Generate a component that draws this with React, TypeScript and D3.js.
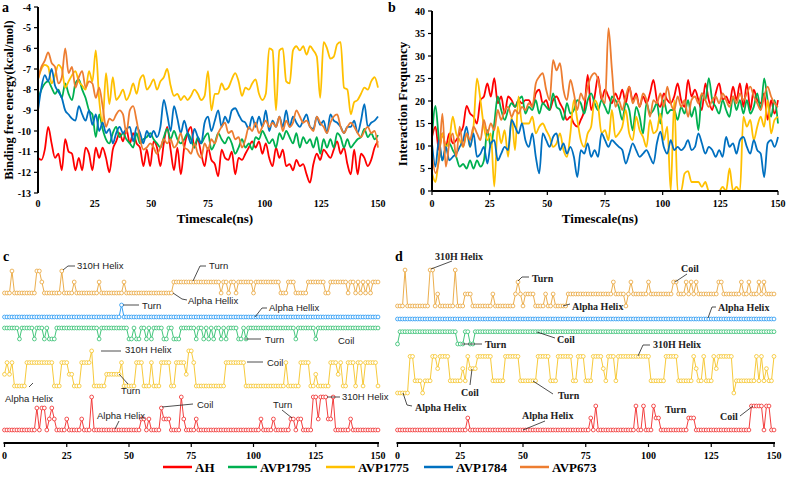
import React from 'react';
import * as d3 from 'd3';

// ---------- DATA ----------
const SERIES = ['AH', 'AVP1795', 'AVP1775', 'AVP1784', 'AVP673'];
const COLORS = ['#FF0000', '#00B050', '#FFC000', '#0070C0', '#ED7D31'];
const TIME_MAX = 150;
const X_TICKS = [0, 25, 50, 75, 100, 125, 150];
const ENERGY_TICKS = [-4, -5, -6, -7, -8, -9, -10, -11, -12, -13];
const FREQ_TICKS = [0, 5, 10, 15, 20, 25, 30, 35, 40];

// binding free energy (kcal/mol), sampled every 1.5 ns
const ENERGY_AH = [-11.3,-11.4,-10.9,-9.8,-10.6,-11.3,-11.1,-11.9,-10.4,-11.0,
-11.1,-11.9,-11.3,-11.9,-10.8,-11.1,-11.9,-10.8,-11.3,-10.8,
-11.3,-12.0,-10.9,-10.5,-10.1,-10.5,-9.9,-10.6,-10.1,-10.6,
-10.8,-11.7,-10.9,-11.7,-10.5,-10.8,-11.7,-10.6,-9.8,-10.9,
-11.9,-10.8,-12.1,-10.8,-10.1,-9.8,-10.8,-10.4,-11.1,-11.7,
-10.8,-11.4,-11.6,-12.2,-10.9,-11.3,-11.4,-11.0,-12.1,-11.3,
-11.4,-11.1,-10.8,-10.5,-10.8,-10.5,-11.1,-10.6,-11.3,-11.7,
-10.8,-11.3,-10.9,-11.7,-11.6,-11.9,-11.4,-11.7,-11.6,-12.1,
-12.5,-11.6,-11.1,-11.4,-10.9,-11.1,-11.3,-10.9,-10.5,-11.1,
-10.8,-11.6,-12.1,-10.9,-12.1,-11.1,-11.3,-11.7,-11.4,-10.8,
-10.5];
const ENERGY_AVP1795 = [-8.5,-8.0,-7.7,-7.6,-7.9,-8.2,-8.0,-8.4,-7.7,-8.2,
-8.5,-7.7,-7.5,-8.0,-8.4,-9.0,-9.2,-10.3,-9.2,-9.9,
-10.4,-10.6,-10.1,-9.8,-10.3,-10.1,-10.4,-10.6,-10.8,-10.1,
-10.6,-10.4,-10.3,-10.1,-10.4,-10.6,-10.8,-10.3,-9.9,-10.4,
-10.0,-10.4,-10.6,-10.4,-10.1,-10.4,-10.8,-10.3,-10.6,-10.3,
-10.1,-10.9,-10.6,-10.1,-10.4,-10.6,-10.3,-10.6,-11.1,-10.8,
-10.4,-10.8,-10.6,-10.9,-10.3,-10.4,-10.0,-10.3,-10.6,-10.4,
-10.8,-10.1,-10.4,-10.0,-10.3,-10.6,-10.1,-10.8,-10.3,-10.6,
-10.4,-10.8,-10.3,-11.1,-10.4,-10.8,-10.4,-10.8,-10.1,-10.3,
-10.8,-10.4,-10.8,-10.6,-10.4,-10.3,-9.9,-10.3,-10.1,-10.4,
-10.2];
const ENERGY_AVP1775 = [-7.5,-7.0,-6.8,-6.9,-7.7,-7.3,-6.8,-7.0,-7.9,-7.6,
-7.3,-7.1,-7.6,-7.8,-8.0,-7.1,-7.6,-6.1,-8.5,-9.6,
-7.2,-8.7,-7.4,-8.5,-8.3,-8.0,-8.5,-8.2,-7.7,-8.2,
-7.5,-7.3,-8.0,-7.8,-7.5,-8.0,-7.6,-7.4,-7.0,-7.8,
-8.3,-8.2,-8.5,-8.3,-8.5,-8.3,-8.0,-8.2,-8.5,-8.3,
-7.1,-9.0,-8.2,-8.2,-7.7,-8.0,-7.9,-7.5,-7.2,-7.6,
-8.3,-7.9,-8.0,-7.7,-7.5,-8.2,-8.5,-8.2,-6.0,-6.1,
-9.0,-6.1,-6.0,-7.6,-7.7,-6.1,-5.9,-6.1,-5.9,-6.3,
-5.9,-6.1,-6.4,-8.4,-5.7,-6.0,-6.5,-6.4,-5.8,-5.7,
-7.9,-8.0,-9.2,-8.6,-8.5,-8.2,-7.9,-8.0,-7.6,-7.4,
-7.9];
const ENERGY_AVP1784 = [-9.0,-7.9,-7.3,-7.6,-7.0,-7.8,-8.1,-8.4,-9.0,-9.2,
-9.4,-9.5,-8.8,-9.2,-9.5,-9.0,-9.7,-9.2,-10.0,-9.6,
-10.1,-9.9,-10.6,-10.1,-9.8,-10.1,-9.9,-9.8,-10.5,-9.8,
-10.1,-10.6,-10.0,-10.3,-10.0,-10.3,-9.8,-8.5,-9.2,-10.0,
-8.8,-9.4,-10.1,-9.5,-10.1,-10.6,-9.9,-10.3,-10.6,-9.6,
-9.3,-10.0,-9.5,-9.0,-9.8,-9.3,-9.6,-9.0,-8.9,-9.2,
-9.5,-9.6,-9.9,-9.3,-9.8,-9.3,-9.8,-9.0,-10.0,-9.5,
-9.8,-9.3,-9.8,-9.0,-9.8,-9.3,-9.6,-9.8,-9.5,-9.2,
-9.8,-9.9,-9.3,-9.7,-9.5,-10.1,-9.2,-9.5,-9.6,-9.8,
-10.1,-9.8,-9.8,-9.5,-10.1,-9.5,-8.7,-9.8,-9.6,-9.5,
-9.3];
const ENERGY_AVP673 = [-7.5,-6.9,-6.6,-6.2,-6.7,-6.9,-7.7,-7.4,-6.0,-7.2,
-6.9,-7.9,-7.4,-7.1,-7.9,-7.6,-7.7,-8.4,-7.9,-8.8,
-9.8,-9.4,-9.5,-9.2,-9.0,-9.2,-10.1,-9.0,-8.8,-9.5,
-10.4,-10.9,-10.8,-10.6,-10.8,-11.1,-10.8,-10.4,-10.6,-10.4,
-10.8,-10.6,-10.1,-10.8,-10.9,-11.1,-10.6,-11.1,-11.3,-10.6,
-10.9,-10.4,-10.6,-10.1,-9.8,-9.6,-10.1,-10.0,-10.4,-10.3,
-10.8,-10.4,-9.8,-10.0,-9.6,-10.1,-9.8,-9.5,-9.8,-9.6,
-9.8,-9.3,-10.0,-9.5,-9.8,-9.6,-9.0,-9.3,-9.6,-9.5,
-9.8,-10.0,-9.3,-9.6,-9.8,-10.1,-9.6,-9.3,-9.2,-9.8,
-10.1,-9.8,-9.6,-9.8,-10.1,-10.3,-10.0,-9.8,-10.1,-10.0,
-10.8];

// interaction frequency, sampled every 1.5 ns
const FREQ_AH = [12.0,14.3,9.1,12.8,9.8,12.8,10.6,11.3,12.8,14.3,
18.9,17.2,16.5,15.0,20.2,21.0,23.9,21.0,25.1,19.5,
21.0,17.2,21.0,20.2,18.7,20.2,19.5,20.2,20.2,18.7,
21.7,22.5,19.5,20.2,18.0,20.2,21.0,19.5,18.0,15.8,
16.5,15.0,14.3,15.8,18.0,25.8,18.0,21.0,25.4,20.2,
22.5,21.0,19.5,21.7,20.2,22.5,19.5,23.2,20.2,21.7,
18.7,21.0,19.5,21.7,24.7,20.2,18.7,21.7,20.2,19.5,
21.0,23.9,20.2,18.7,24.7,21.0,22.5,20.2,18.0,23.9,
20.2,18.0,21.7,23.9,20.2,21.0,19.5,23.2,20.2,23.9,
18.7,23.9,18.0,22.5,20.2,19.5,21.7,15.8,20.2,17.2,
20.2];
const FREQ_AVP1795 = [12.0,18.9,11.3,6.8,9.8,10.6,9.1,7.6,5.4,6.0,
5.0,6.8,5.0,6.8,5.4,6.8,13.5,9.8,15.0,21.0,
18.0,15.8,18.0,19.5,18.7,20.2,21.0,17.2,18.7,18.0,
20.2,17.2,19.5,18.7,18.0,21.7,18.7,18.0,15.8,19.5,
17.2,18.0,20.2,19.5,17.2,20.2,21.7,19.5,18.0,20.2,
18.7,17.2,21.0,20.2,18.7,15.8,19.5,18.0,13.5,18.7,
16.5,12.8,19.5,17.2,18.0,19.5,15.0,20.2,17.2,18.0,
18.0,15.8,18.7,17.2,20.2,16.5,18.7,13.5,21.7,20.2,
25.1,20.2,18.7,17.2,20.2,18.0,16.5,21.0,18.0,20.2,
17.2,20.2,17.2,18.7,21.7,18.0,25.0,20.2,16.5,20.2,
15.0];
const FREQ_AVP1775 = [4.0,2.0,7.6,12.8,9.8,11.3,16.5,12.8,11.3,9.8,
12.8,9.8,14.3,25.0,20.2,14.3,11.3,12.8,1.0,14.3,
10.6,13.5,7.6,16.5,9.1,21.0,15.0,15.0,15.0,16.5,
12.8,14.3,15.0,13.5,12.0,9.8,10.6,12.8,9.1,7.6,
12.8,20.2,15.8,11.3,9.8,12.8,14.3,20.2,18.7,12.8,
13.5,11.3,18.0,12.0,12.8,14.3,18.0,12.8,11.3,16.5,
13.5,12.0,9.8,15.8,12.8,13.5,17.2,11.3,14.3,0.0,
20.2,0.0,0.0,3.9,4.4,2.0,2.0,2.0,0.9,2.0,
0.0,0.0,0.0,0.0,0.9,0.0,5.0,0.0,0.9,0.0,
16.5,14.3,15.8,11.3,14.3,16.5,14.3,20.2,12.8,15.8,
16.5];
const FREQ_AVP1784 = [10.6,5.4,11.3,6.8,9.8,6.8,7.6,8.3,9.8,11.3,
14.3,9.8,12.8,7.6,8.3,9.8,6.1,10.6,11.3,6.8,
8.3,9.8,9.1,15.8,14.3,12.8,15.0,11.3,9.8,12.8,
7.6,3.9,12.8,11.3,9.8,12.0,12.8,9.1,10.6,8.3,
9.8,7.6,3.1,9.1,8.3,10.6,7.6,9.1,7.6,12.8,
11.3,9.8,11.3,10.6,9.8,9.1,6.1,8.3,10.6,9.1,
7.6,8.3,9.1,7.6,6.1,10.6,13.2,9.8,8.3,11.3,
9.1,9.8,9.1,9.8,11.3,9.1,9.8,12.8,10.6,8.3,
9.8,9.1,7.6,9.1,7.6,12.0,9.8,10.6,8.3,11.3,
12.0,9.8,8.3,11.3,9.1,8.3,3.1,10.6,11.3,9.8,
12.0];
const FREQ_AVP673 = [8.0,4.0,6.8,17.2,5.4,10.6,12.8,7.6,14.3,9.8,
12.8,11.3,14.3,12.8,11.3,15.8,12.8,15.0,13.5,18.0,
15.8,18.0,18.7,16.5,18.0,17.2,18.7,18.0,19.5,18.7,
23.9,25.4,26.2,22.5,20.2,29.1,26.8,28.4,22.5,20.2,
24.7,21.7,18.0,21.7,20.2,23.2,25.4,26.2,24.7,21.0,
19.5,36.2,27.0,18.7,20.2,18.0,21.0,23.2,19.5,21.0,
18.7,21.7,20.2,16.5,20.2,19.5,21.7,18.7,23.2,19.5,
18.0,21.0,18.7,20.2,16.5,20.2,21.0,19.5,21.7,20.2,
18.7,20.2,21.0,19.5,21.7,20.2,18.7,21.0,19.5,21.7,
20.2,21.7,23.2,21.0,19.5,18.0,21.0,23.2,21.0,19.5,
18.7];

const ENERGY = [ENERGY_AH, ENERGY_AVP1795, ENERGY_AVP1775, ENERGY_AVP1784, ENERGY_AVP673];
const FREQ = [FREQ_AH, FREQ_AVP1795, FREQ_AVP1775, FREQ_AVP1784, FREQ_AVP673];

// secondary-structure state per ns (0..150); digit = state level (0 = lowest)
const SS_C_1 = '0002000000 0002210000 0002000010 0000000010 0000000010 0000000000 0000000011 1111111111 1111111011 0110111111 0111111111 1000111000 0011111110 0111111101 1010101011 1';
const SS_C_2 = '0000000000 0000000000 0000000000 0000000000 0000000100 0000000000 0000000000 0000000000 0000000000 0000000000 0000000000 0000000000 0000000000 0000000000 0000000000 0';
const SS_C_3 = '1111110111 1101110100 0111111111 1111111101 1111111111 0010011010 1111001100 0111111011 0101011010 1111001011 1111111111 1111111011 1111101111 1111111111 1111111111 1';
const SS_C_4 = '1212000002 2222222222 0002221100 0222230000 0111111200 0002220002 0002222002 2221332000 0000000002 2222222000 0000000000 0002000002 2220010000 0222120022 2022022222 0';
const SS_C_5 = '0000000000 0002022012 1000010000 0100030000 0000000000 0000011010 0002111000 0310000100 0000000000 0000000000 0001000010 0000011011 0000331333 1130000001 0000000000 0';
const SS_D_1 = '0003000000 0003301000 0003000111 0000000010 0000000121 0111100001 0010000011 1111111111 1111112111 1012111111 2111111111 2211121212 1111111122 1111111211 2111212111 1';
const SS_D_2 = '0000000000 0000000000 0000000000 0000000000 0000000000 0000000000 0000000000 0000000000 0000000000 0000000000 0000000000 0000000000 0000000000 0000000000 0000000000 0';
const SS_D_3 = '0111111111 1111111111 1111000110 0111111111 1111111111 1111111111 1111111111 1111111111 1111111111 1111111111 1111111111 1111111111 1111111111 1111111111 1111111111 1';
const SS_D_4 = '0000033111 0111332333 3111112132 2233333311 1113333331 1111113333 3111333333 1133311133 3321333133 3333333333 3111111333 3311111132 1131113233 3333011111 1113131211 3';
const SS_D_5 = '0000000000 0000000000 0000000010 0000000000 0000000000 0000000000 0000000000 0000000102 0000000000 0000020020 0021100000 0000001110 0000000000 0000000000 0222220220 0';

// ---------- LAYOUT / STYLE ----------
const W = 787, H = 483;
const SERIF = "'Times New Roman','Liberation Serif',serif";
const SANS = "Arial,'Liberation Sans',sans-serif";
const TRACK_COLORS = ['#E9A53A', '#2196F3', '#2DBE6C', '#F5C324', '#F02828'];

const C_TRACKS = [
  { code: SS_C_1, y0: 293, step: 11 },
  { code: SS_C_2, y0: 317, step: 12 },
  { code: SS_C_3, y0: 339, step: 11 },
  { code: SS_C_4, y0: 386, step: 11.7 },
  { code: SS_C_5, y0: 430, step: 11 },
];
const D_TRACKS = [
  { code: SS_D_1, y0: 306, step: 12 },
  { code: SS_D_2, y0: 319, step: 12 },
  { code: SS_D_3, y0: 344, step: 12.3 },
  { code: SS_D_4, y0: 393, step: 12.2 },
  { code: SS_D_5, y0: 430, step: 12 },
];

const C_NOTES = [
  { t: '310H Helix', x: 77, y: 266, p: [[63, 270], [68, 266], [75, 266]] },
  { t: 'Turn', x: 209, y: 266, p: [[193, 281], [200, 266], [206, 266]] },
  { t: 'Alpha Hellix', x: 188, y: 301, p: [[173, 293], [182, 299], [187, 300]] },
  { t: 'Turn', x: 142, y: 306, p: [[123, 305], [139, 305]] },
  { t: 'Alpha Hellix', x: 269, y: 308, p: [[255, 317], [262, 308], [267, 308]] },
  { t: 'Turn', x: 265, y: 340, p: [[245, 339], [261, 339]] },
  { t: 'Coil', x: 338, y: 341, p: [] },
  { t: '310H Helix', x: 125, y: 350, p: [[101, 351], [121, 351]] },
  { t: 'Turn', x: 121, y: 391, p: [[119, 374], [128, 384]] },
  { t: 'Alpha Helix', x: 5, y: 399, p: [[29, 387], [33, 383]] },
  { t: 'Coil', x: 267, y: 363, p: [[247, 362], [263, 362]] },
  { t: 'Alpha Helix', x: 97, y: 416, p: [[115, 429], [119, 421]] },
  { t: 'Coil', x: 197, y: 405, p: [[162, 407], [193, 404]] },
  { t: 'Turn', x: 273, y: 405, p: [[282, 410], [292, 418]] },
  { t: '310H Helix', x: 342, y: 397, p: [[327, 397], [340, 397]] },
];
const D_NOTES = [
  { t: '310H Helix', x: 435, y: 256, p: [[431, 269], [452, 261]] },
  { t: 'Turn', x: 532, y: 278, p: [[518, 281], [522, 277], [529, 277]] },
  { t: 'Alpha Helix', x: 572, y: 306, p: [[563, 306], [570, 304]] },
  { t: 'Coil', x: 681, y: 268, p: [[675, 282], [687, 274]] },
  { t: 'Alpha Helix', x: 718, y: 307, p: [[708, 318], [712, 307], [716, 307]] },
  { t: 'Coil', x: 557, y: 339, p: [[537, 332], [555, 338]] },
  { t: 'Turn', x: 485, y: 344, p: [[462, 344], [482, 344]] },
  { t: 'Coil', x: 461, y: 392, p: [[472, 369], [470, 385]] },
  { t: 'Turn', x: 558, y: 395, p: [[533, 381], [553, 394]] },
  { t: 'Alpha Helix', x: 415, y: 407, p: [[403, 393], [407, 405], [412, 406]] },
  { t: '310H Helix', x: 653, y: 344, p: [[638, 356], [643, 345], [650, 345]] },
  { t: 'Alpha Helix', x: 522, y: 415, p: [[523, 430], [545, 421]] },
  { t: 'Turn', x: 665, y: 409, p: [] },
  { t: 'Coil', x: 720, y: 416, p: [[740, 416], [753, 406]] },
];

const LEGEND_X = [163, 228, 326, 424, 520];

// ---------- COMPONENTS ----------
function LinePanel({ xs, ys, data, yTicks, xAxisLine, curve }) {
  const [x0] = xs.range();
  const [yb, yt] = ys.range();
  return (
    <g>
      {data.map((vals, k) => {
        const n = vals.length;
        const line = d3.line<number>()
          .x((_, i) => xs((i * TIME_MAX) / (n - 1)))
          .y((v) => ys(v))
          .curve(curve);
        return <path key={k} d={line(vals) || ''} fill="none" stroke={COLORS[k]} strokeWidth={1.8} strokeLinejoin="round" />;
      })}
      <line x1={x0} x2={x0} y1={yt} y2={yb} stroke="#000" strokeWidth={2} />
      {yTicks.map((t) => (
        <g key={t}>
          <line x1={x0 - 4} x2={x0} y1={ys(t)} y2={ys(t)} stroke="#000" strokeWidth={1.2} />
          <text x={x0 - 7} y={ys(t)} dy="0.35em" textAnchor="end" fontFamily={SERIF} fontWeight="bold" fontSize={10}>{t}</text>
        </g>
      ))}
      {xAxisLine && <line x1={x0} x2={xs.range()[1]} y1={yb} y2={yb} stroke="#000" strokeWidth={2.2} />}
      {X_TICKS.map((t) => (
        <g key={t}>
          {xAxisLine && <line x1={xs(t)} x2={xs(t)} y1={yb} y2={yb + 4} stroke="#000" strokeWidth={1.2} />}
          <text x={xs(t)} y={203} dy="0.35em" textAnchor="middle" fontFamily={SERIF} fontWeight="bold" fontSize={10}>{t}</text>
        </g>
      ))}
    </g>
  );
}

function Track({ code, xs, y0, step, color }) {
  const vals = code.replace(/\s/g, '').split('').map(Number);
  const n = vals.length;
  const ls = d3.scaleLinear().domain([0, 1]).range([y0, y0 - step]);
  const px = (i) => xs((i * TIME_MAX) / (n - 1));
  const line = d3.line<number>().x((_, i) => px(i)).y((v) => ls(v));
  return (
    <g>
      <path d={line(vals) || ''} fill="none" stroke={color} strokeWidth={0.9} />
      {vals.map((v, i) => (
        <circle key={i} cx={px(i)} cy={ls(v)} r={1.9} fill="#fff" stroke={color} strokeWidth={0.8} />
      ))}
    </g>
  );
}

function SSPanel({ xs, tracks, notes, serifNotes }) {
  const [a, b] = xs.range();
  const axisY = 443;
  return (
    <g>
      {tracks.map((t, k) => (
        <Track key={k} code={t.code} xs={xs} y0={t.y0} step={t.step} color={TRACK_COLORS[k]} />
      ))}
      {notes.map((nt, k) => (
        <g key={k}>
          {nt.p.length > 1 && (
            <polyline points={nt.p.map((q) => q.join(',')).join(' ')} fill="none" stroke="#222" strokeWidth={0.8} />
          )}
          <text x={nt.x} y={nt.y} dy="0.35em" fontFamily={serifNotes ? SERIF : SANS}
            fontWeight={serifNotes ? 'bold' : 'normal'} fontSize={serifNotes ? 10 : 9.5} fill="#222">{nt.t}</text>
        </g>
      ))}
      <line x1={a - 1} x2={b + 1} y1={axisY} y2={axisY} stroke="#000" strokeWidth={2} />
      {X_TICKS.map((t) => (
        <g key={t}>
          <line x1={xs(t)} x2={xs(t)} y1={axisY} y2={axisY + 4} stroke="#000" strokeWidth={1.2} />
          <text x={xs(t)} y={455} dy="0.35em" textAnchor="middle" fontFamily={SERIF} fontWeight="bold" fontSize={10}>{t}</text>
        </g>
      ))}
    </g>
  );
}

export default function App() {
  const xA = d3.scaleLinear().domain([0, TIME_MAX]).range([38, 378]);
  const yA = d3.scaleLinear().domain([-13, -4]).range([193, 7]);
  const xB = d3.scaleLinear().domain([0, TIME_MAX]).range([432, 778]);
  const yB = d3.scaleLinear().domain([0, 40]).range([191, 11]);
  const xC = d3.scaleLinear().domain([0, TIME_MAX]).range([4.5, 378]);
  const xD = d3.scaleLinear().domain([0, TIME_MAX]).range([397.5, 774]);

  return (
    <svg width={W} height={H} viewBox={`0 0 ${W} ${H}`} style={{ position: 'absolute', left: 0, top: 0, background: '#fff' }}>
      <rect width={W} height={H} fill="#fff" />
      {/* panel labels */}
      <text x={2} y={12} fontFamily={SERIF} fontWeight="bold" fontSize={14}>a</text>
      <text x={388} y={12} fontFamily={SERIF} fontWeight="bold" fontSize={14}>b</text>
      <text x={3} y={261} fontFamily={SERIF} fontWeight="bold" fontSize={14}>c</text>
      <text x={395} y={261} fontFamily={SERIF} fontWeight="bold" fontSize={14}>d</text>

      <LinePanel xs={xA} ys={yA} data={ENERGY} yTicks={ENERGY_TICKS} xAxisLine={false} curve={d3.curveMonotoneX} />
      <LinePanel xs={xB} ys={yB} data={FREQ} yTicks={FREQ_TICKS} xAxisLine={true} curve={d3.curveMonotoneX} />

      <text transform="translate(13,100) rotate(-90)" textAnchor="middle" fontFamily={SERIF} fontWeight="bold" fontSize={12.5}>Binding free energy(kcal/mol)</text>
      <text transform="translate(407,104) rotate(-90)" textAnchor="middle" fontFamily={SERIF} fontWeight="bold" fontSize={13}>Interaction Frequency</text>
      <text x={215} y={218} dy="0.35em" textAnchor="middle" fontFamily={SERIF} fontWeight="bold" fontSize={13}>Timescale(ns)</text>
      <text x={600} y={218} dy="0.35em" textAnchor="middle" fontFamily={SERIF} fontWeight="bold" fontSize={13}>Timescale(ns)</text>

      <SSPanel xs={xC} tracks={C_TRACKS} notes={C_NOTES} serifNotes={false} />
      <SSPanel xs={xD} tracks={D_TRACKS} notes={D_NOTES} serifNotes={true} />

      {SERIES.map((s, k) => (
        <g key={s}>
          <line x1={LEGEND_X[k]} x2={LEGEND_X[k] + 29} y1={467} y2={467} stroke={COLORS[k]} strokeWidth={2.5} />
          <text x={LEGEND_X[k] + 32} y={467} dy="0.35em" fontFamily={SERIF} fontWeight="bold" fontSize={13}>{s}</text>
        </g>
      ))}
    </svg>
  );
}
